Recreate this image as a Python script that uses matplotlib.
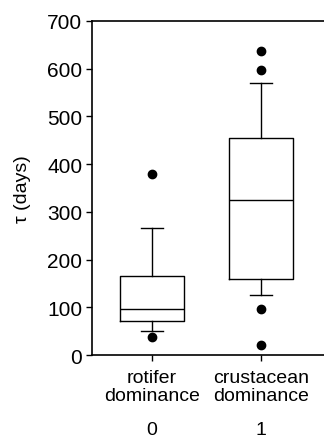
import matplotlib
matplotlib.use("Agg")
import matplotlib.pyplot as plt

plt.rcParams['font.family'] = ['Liberation Sans', 'DejaVu Sans']

# Data
groups = ['rotifer\ndominance', 'crustacean\ndominance']
codes = ['0', '1']
q1 = [71, 160]
med = [97, 324]
q3 = [165, 454]
whislo = [51, 126]
whishi = [267, 569]
fliers = [[38, 379], [21, 96, 597, 637]]
yticks = [0, 100, 200, 300, 400, 500, 600, 700]

stats = []
for i in range(len(groups)):
    stats.append(dict(q1=q1[i], med=med[i], q3=q3[i], whislo=whislo[i],
                      whishi=whishi[i], fliers=fliers[i], label=groups[i]))

fig = plt.figure(figsize=(3.24, 4.39), dpi=100)
ax = fig.add_axes([0.284, 0.189, 0.716, 0.761])

lw = 1.0
ax.bxp(stats, positions=[0, 1], widths=0.59, showfliers=True,
       boxprops=dict(color='black', linewidth=lw),
       medianprops=dict(color='black', linewidth=lw),
       whiskerprops=dict(color='black', linewidth=lw),
       capprops=dict(color='black', linewidth=lw),
       capwidths=0.2,
       flierprops=dict(marker='o', markerfacecolor='black',
                       markeredgecolor='black', markersize=6))

ax.set_xlim(-0.552, 1.582)
ax.set_ylim(0, 700)
ax.set_yticks(yticks)
ax.spines['right'].set_visible(False)
for s in ['left', 'bottom', 'top']:
    ax.spines[s].set_linewidth(1.2)

ax.tick_params(axis='both', direction='out', length=4, width=1.0,
               labelsize=15, colors='black')
ax.tick_params(axis='y', pad=3)
ax.tick_params(axis='x', pad=6, labelsize=14)
ax.set_xticks([0, 1])
ax.set_xticklabels(groups, linespacing=1.1)

for x, c in zip([0, 1], codes):
    ax.text(x, -0.222, c, transform=ax.get_xaxis_transform(),
            ha='center', va='center', fontsize=14)

ax.set_ylabel('\u03c4 (days)', fontsize=14)
ax.yaxis.set_label_coords(-0.262, 0.5)

fig.savefig('out.png', dpi=100)
